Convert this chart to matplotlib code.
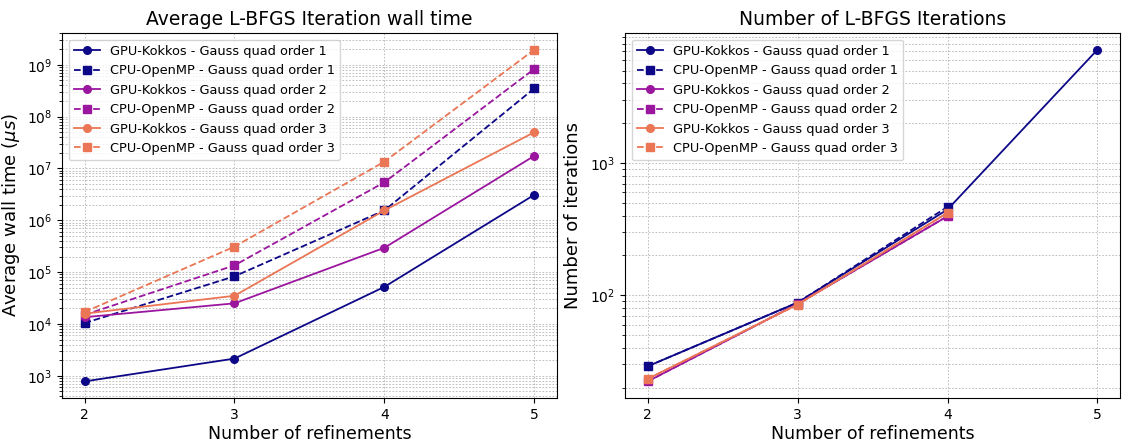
import matplotlib
matplotlib.use('Agg')
import matplotlib.pyplot as plt
import numpy as np

refinements = [2, 3, 4, 5]
colors = plt.cm.plasma([0.0, 0.33, 0.66])

# average wall time per L-BFGS iteration (microseconds)
gpu_time_o1 = [780, 2150, 52000, 3.1e6]
cpu_time_o1 = [10400, 83000, 1.55e6, 3.5e8]
gpu_time_o2 = [13500, 25000, 2.95e5, 1.75e7]
cpu_time_o2 = [15000, 1.35e5, 5.4e6, 8.3e8]
gpu_time_o3 = [15800, 35000, 1.55e6, 5.0e7]
cpu_time_o3 = [17000, 3.1e5, 1.35e7, 1.95e9]

# number of L-BFGS iterations
ref_iter_o1 = [2, 3, 4, 5]
gpu_iter_o1 = [29, 88, 445, 7200]
cpu_iter_o1 = [29, 88, 466]
gpu_iter_o2 = [22.3, 86, 396]
cpu_iter_o2 = [22.3, 86, 396]
gpu_iter_o3 = [23.3, 85, 420]
cpu_iter_o3 = [23.3, 85, 420]

fig, (ax1, ax2) = plt.subplots(1, 2, figsize=(11.24, 4.41))

time_series = [(gpu_time_o1, cpu_time_o1), (gpu_time_o2, cpu_time_o2), (gpu_time_o3, cpu_time_o3)]
for i, (g, c) in enumerate(time_series):
    ax1.plot(refinements, g, color=colors[i], marker='o', markersize=5.5, linestyle='-', linewidth=1.3,
             label=f'GPU-Kokkos - Gauss quad order {i+1}')
    ax1.plot(refinements, c, color=colors[i], marker='s', markersize=5.5, linestyle='--', linewidth=1.3,
             label=f'CPU-OpenMP - Gauss quad order {i+1}')

iter_series = [(gpu_iter_o1, cpu_iter_o1), (gpu_iter_o2, cpu_iter_o2), (gpu_iter_o3, cpu_iter_o3)]
for i, (g, c) in enumerate(iter_series):
    ax2.plot(ref_iter_o1[:len(g)], g, color=colors[i], marker='o', markersize=5.5, linestyle='-', linewidth=1.3,
             label=f'GPU-Kokkos - Gauss quad order {i+1}')
    ax2.plot(ref_iter_o1[:len(c)], c, color=colors[i], marker='s', markersize=5.5, linestyle='--', linewidth=1.3,
             label=f'CPU-OpenMP - Gauss quad order {i+1}')

ax1.set_title('Average L-BFGS Iteration wall time', fontsize=13.5)
ax1.set_ylabel(r'Average wall time ($\mu s$)', fontsize=13)
ax2.set_title('Number of L-BFGS Iterations', fontsize=13.5)
ax2.set_ylabel('Number of iterations', fontsize=13)
ax1.yaxis.set_label_coords(-0.08, 0.5)
ax2.yaxis.set_label_coords(-0.087, 0.5)

for ax in (ax1, ax2):
    ax.set_yscale('log')
    ax.set_xticks(refinements)
    ax.set_xlabel('Number of refinements', fontsize=12.5, labelpad=2)
    ax.grid(True, which='both', linestyle=(0, (2, 2)), linewidth=0.6, color='gray', alpha=0.6)
    ax.legend(loc='upper left', fontsize=9.3)
    ax.tick_params(labelsize=10)

plt.subplots_adjust(left=0.0552, right=0.9964, top=0.925, bottom=0.0975, wspace=0.138)
plt.savefig('out.png', dpi=100)
plt.close()
